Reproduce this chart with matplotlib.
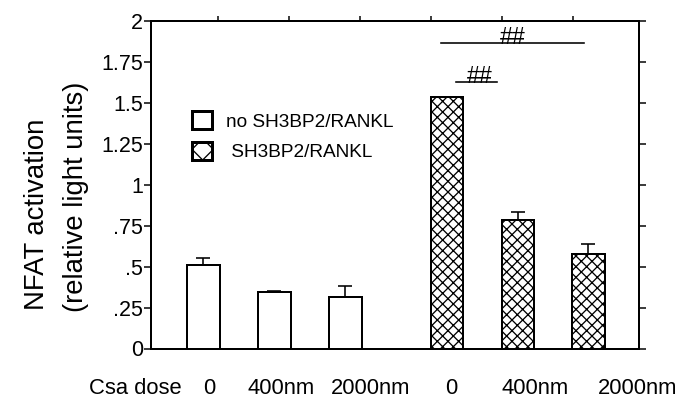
import numpy as np
import matplotlib
matplotlib.use("Agg")
import matplotlib.pyplot as plt
from matplotlib.patches import Patch

DPI = 64
def pt(px):
    return px * 72.0 / DPI

plt.rcParams['font.family'] = ['Liberation Sans', 'DejaVu Sans']
plt.rcParams['hatch.linewidth'] = pt(1.3)

# ---- data ----
groups = ["no SH3BP2/RANKL", "SH3BP2/RANKL"]
doses = ["0", "400nm", "2000nm"]
means_ctrl = [0.512, 0.343, 0.314]
err_ctrl = [0.042, 0.011, 0.071]
means_sh3 = [1.538, 0.787, 0.579]
err_sh3 = [0.0, 0.046, 0.058]
x_tick_labels = ["0", "400nm", "2000nm", "0", "400nm", "2000nm"]
y_ticks = [0, 0.25, 0.5, 0.75, 1.0, 1.25, 1.5, 1.75, 2.0]
y_tick_labels = ["0", ".25", ".5", ".75", "1", "1.25", "1.5", "1.75", "2"]
sig_x0 = [3.345, 3.556]
sig_x1 = [5.36, 4.134]
sig_y = [1.868, 1.63]
sig_text = ["##", "##"]

# ---- layout ----
W, H = 689, 408
fig = plt.figure(figsize=(W / DPI, H / DPI), dpi=DPI)
ax = fig.add_axes([151 / W, 1 - 348.5 / H, (639 - 151) / W, (348.5 - 21.5) / H])

pos_ctrl = np.array([0.0, 1.0, 2.0])
pos_sh3 = np.array([3.43, 4.43, 5.42])
bw = 0.46
lw = pt(2)

ax.bar(pos_ctrl, means_ctrl, width=bw, color="white", edgecolor="black", linewidth=lw, zorder=2)
ax.bar(pos_sh3, means_sh3, width=bw, color="white", edgecolor="black", linewidth=lw, hatch="xx", zorder=2)

ekw = dict(fmt="none", ecolor="black", elinewidth=pt(1.6), capsize=pt(7), capthick=pt(1.6), zorder=3)
ax.errorbar(pos_ctrl, means_ctrl, yerr=[np.zeros(3), err_ctrl], **ekw)
ax.errorbar(pos_sh3, means_sh3, yerr=[np.zeros(3), err_sh3], **ekw)

ax.set_xlim(-0.739, 6.134)
ax.set_ylim(0, 2)

for s in ax.spines.values():
    s.set_linewidth(lw)

ax.set_yticks(y_ticks)
ax.set_yticklabels(y_tick_labels, fontsize=pt(21.5))
ax.tick_params(axis="y", which="both", direction="out", length=pt(7), width=pt(1.5),
               left=True, right=True, labelleft=True, labelright=False, pad=pt(1))

lab_pos = [0.08, 1.1, 2.36, 3.49, 4.67, 6.12]
ax.set_xticks(lab_pos)
ax.set_xticklabels(x_tick_labels, fontsize=pt(22))
ax.tick_params(axis="x", bottom=True, length=0, pad=pt(29))
xl = ax.get_xticklabels()[0]
ax.annotate("Csa dose", xy=(-0.96, 0), xycoords="data", xytext=(0, -pt(29)),
            textcoords="offset points", fontsize=pt(22), ha="center", va="top",
            annotation_clip=False)

top = ax.secondary_xaxis("top")
top.set_xticks(np.arange(6) + 0.2)
top.set_xticklabels([])
top.tick_params(direction="out", length=pt(5), width=pt(1.5))
top.spines["top"].set_linewidth(lw)

fig.text(37 / W, 1 - 214 / H, "NFAT activation", rotation=90, fontsize=pt(27.5),
         ha="center", va="center")
fig.text(76 / W, 1 - 197 / H, "(relative light units)", rotation=90, fontsize=pt(27.5),
         ha="center", va="center")

for x0, x1, y, t in zip(sig_x0, sig_x1, sig_y, sig_text):
    ax.plot([x0, x1], [y, y], color="black", linewidth=pt(1.6), zorder=3)
    ax.text((x0 + x1) / 2 + (0.05 if x1 - x0 < 1 else 0.0), y - 0.004, t, fontsize=pt(23),
            ha="center", va="baseline")

handles = [Patch(facecolor="white", edgecolor="black", linewidth=pt(3)),
           Patch(facecolor="white", edgecolor="black", linewidth=pt(3), hatch="x")]
leg = ax.legend(handles, [groups[0], " " + groups[1]], loc="upper left",
                bbox_to_anchor=(0.084, 0.725), frameon=False, fontsize=pt(19),
                handlelength=1.05, handleheight=1.05, handletextpad=0.75,
                labelspacing=0.6, borderpad=0, borderaxespad=0)

fig.savefig("out.png", dpi=DPI, facecolor="white")
